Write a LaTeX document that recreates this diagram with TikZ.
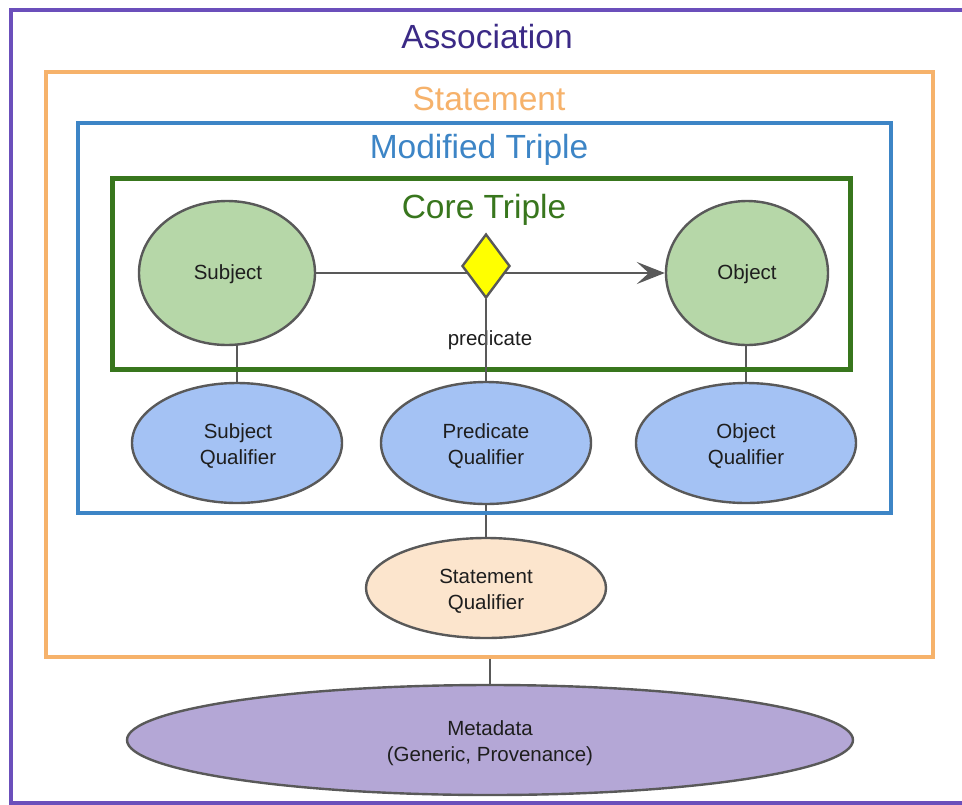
\documentclass[tikz,border=0pt]{standalone}
\usepackage{fontspec}
\setmainfont{Liberation Sans}
\usetikzlibrary{shapes.geometric,arrows.meta}
\pgfdeclarelayer{bg}
\pgfdeclarelayer{edges}
\pgfsetlayers{bg,edges,main}
\definecolor{assoc}{HTML}{6B4FBB}
\definecolor{assoctxt}{HTML}{3B2A86}
\definecolor{stmtc}{HTML}{F6B26B}
\definecolor{modc}{HTML}{3D85C6}
\definecolor{corec}{HTML}{38761D}
\definecolor{edgec}{HTML}{595959}
\definecolor{greenf}{HTML}{B6D7A8}
\definecolor{bluef}{HTML}{A4C2F4}
\definecolor{peachf}{HTML}{FCE5CD}
\definecolor{purplef}{HTML}{B4A7D6}
\definecolor{yellowf}{HTML}{FFFF00}
\definecolor{txtc}{HTML}{1E1E1E}
\tikzset{
  boxframe/.style={draw, rectangle, inner sep=0pt},
  titletext/.style={font=\fontsize{33.5}{40}\selectfont, inner sep=0pt},
  ell/.style={ellipse, draw=edgec, line width=2.4pt, inner sep=0pt, text=txtc,
    align=center, font=\fontsize{20.5}{26}\selectfont},
  conn/.style={draw=edgec, line width=2.8pt},
  lbl/.style={text=txtc, align=center, inner sep=0pt, font=\fontsize{20.5}{26}\selectfont},
}
\begin{document}
\begin{tikzpicture}[x=1pt,y=-1pt]
\useasboundingbox (0,0) rectangle (962,804);
\clip (0,0) rectangle (962,804);
\begin{pgfonlayer}{bg}
\fill[white] (0,0) rectangle (962,804);
\end{pgfonlayer}
% frames
\node[boxframe, draw=assoc, line width=4pt, minimum width=964, minimum height=793] (assocbox) at (493,406.5) {};
\node[titletext, text=assoctxt] (assoctitle) at (487,37) {Association};
\node[boxframe, draw=stmtc, line width=4.5pt, minimum width=887, minimum height=585] (stmtbox) at (489.5,364.5) {};
\node[titletext, text=stmtc] (stmttitle) at (489,99) {Statement};
\node[boxframe, draw=modc, line width=4pt, minimum width=813, minimum height=390] (modbox) at (484.5,318) {};
\node[titletext, text=modc] (modtitle) at (479,150) {Modified Triple};
\node[boxframe, draw=corec, line width=5pt, minimum width=738, minimum height=191] (corebox) at (481,273.5) {};
\node[titletext, text=corec] (coretitle) at (484,210) {Core Triple};
% ellipses
\node[ell, fill=greenf, minimum width=176, minimum height=144] (subj) at (227,273) {};
\node[ell, fill=greenf, minimum width=162, minimum height=144] (obj) at (747,273) {};
\node[ell, fill=bluef, minimum width=210, minimum height=120] (sq) at (237,443) {};
\node[ell, fill=bluef, minimum width=210, minimum height=122] (pq) at (486,443) {};
\node[ell, fill=bluef, minimum width=220, minimum height=120] (oq) at (746,443) {};
\node[ell, fill=peachf, minimum width=240, minimum height=100] (stq) at (486,588) {};
\node[ell, fill=purplef, minimum width=726, minimum height=110] (md) at (490,740) {};
% texts
\node[lbl] (subjt) at (228,274) {Subject};
\node[lbl] (objt) at (747,274) {Object};
\node[lbl] (sqt) at (238,446) {Subject\\Qualifier};
\node[lbl] (pqt) at (486,446) {Predicate\\Qualifier};
\node[lbl] (oqt) at (746,446) {Object\\Qualifier};
\node[lbl] (stqt) at (486,591) {Statement\\Qualifier};
\node[lbl] (mdt) at (490,743) {Metadata\\(Generic, Provenance)};
\node[lbl] (predlbl) at (490,340) {predicate};
% predicate arrow
\draw[conn, -{Stealth[length=28pt,width=22pt,inset=12pt]}] (subj) -- (obj);
\node[diamond, draw=edgec, line width=2.4pt, fill=yellowf, minimum width=48, minimum height=64, inner sep=0pt] (dia) at (486,266) {};
\draw[conn] (dia.south) -- (pq.north);
\begin{pgfonlayer}{edges}
\draw[conn] (sq.center) -- (sq.center |- subj.center);
\draw[conn] (oq.center) -- (oq.center |- obj.center);
\draw[conn] (pq.center) -- (stq.center);
\draw[conn] (md.center) -- (md.center |- stmtbox.south);
\end{pgfonlayer}
\end{tikzpicture}
\end{document}
